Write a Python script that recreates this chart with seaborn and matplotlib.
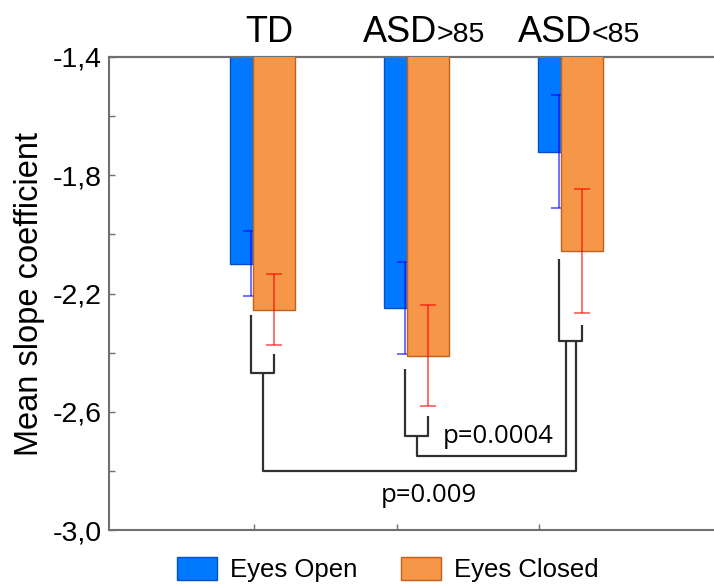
import matplotlib
matplotlib.use("Agg")
import numpy as np
import pandas as pd
import seaborn as sns
import matplotlib.pyplot as plt
import matplotlib.transforms as mtrans
from matplotlib.ticker import FixedLocator, FuncFormatter

# ---------------- data ----------------
groups = ["TD", "ASD>85", "ASD<85"]
conditions = ["Eyes Open", "Eyes Closed"]
open_mean = [-2.10, -2.25, -1.72]
open_err = [0.11, 0.155, 0.19]
closed_mean = [-2.255, -2.41, -2.055]
closed_err = [0.12, 0.17, 0.21]
p_labels = ["p=0.0004", "p=0.009"]
y_ticks = [-3.0, -2.6, -2.2, -1.8, -1.4]
y_minor = [-2.8, -2.4, -2.0, -1.6]

# ---------------- style ----------------
sns.set_theme(style="white")
plt.rcParams["font.family"] = ["Liberation Sans", "DejaVu Sans"]
plt.rcParams["text.color"] = "black"
plt.rcParams["axes.labelcolor"] = "black"

blue_fill, blue_edge = "#0078FF", "#0050C8"
orange_fill, orange_edge = "#F69648", "#C0601A"
spine_col = "#707070"

fig = plt.figure(figsize=(7.14, 5.85), dpi=100)
ax = fig.add_axes([109 / 714, 1 - 530 / 585, 1 - 109 / 714, 473 / 585])

pos = np.arange(len(groups))
off = 0.0747
bw = 0.273

df_open = pd.DataFrame({"x": pos - off, "y": open_mean})
df_closed = pd.DataFrame({"x": pos + off, "y": closed_mean})

sns.barplot(data=df_open, x="x", y="y", native_scale=True, width=bw,
            color=blue_fill, saturation=1, edgecolor=blue_edge, linewidth=1,
            errorbar=None, zorder=2, label=conditions[0], ax=ax)
ax.errorbar(pos - off, open_mean, yerr=open_err, fmt="none",
            ecolor=(0, 0, 1, 0.6), elinewidth=1.3, capsize=5.5, capthick=1.3,
            zorder=2.5)
sns.barplot(data=df_closed, x="x", y="y", native_scale=True, width=bw,
            color=orange_fill, saturation=1, edgecolor=orange_edge, linewidth=1,
            errorbar=None, zorder=3, label=conditions[1], ax=ax)
ax.errorbar(pos + off, closed_mean, yerr=closed_err, fmt="none",
            ecolor=(1, 0, 0, 0.6), elinewidth=1.3, capsize=5.5, capthick=1.3,
            zorder=4)
if ax.get_legend() is not None:
    ax.get_legend().remove()

# ---------------- significance brackets ----------------
bk = dict(color="#303030", lw=1.6, zorder=5, solid_capstyle="butt")
# per-group brackets: (left leg start, right leg start, join level)
leg_tops = [(-2.273, -2.405, -2.468), (-2.455, -2.613, -2.681), (-2.083, -2.307, -2.360)]
for i, (l0, r0, j) in enumerate(leg_tops):
    ax.plot([i - off, i - off, i + off, i + off], [l0, j, j, r0], **bk)
# connecting lines
ax.plot([1, 1, 1.969, 1.969], [-2.681, -2.75, -2.75, -2.360], **bk)
ax.plot([0, 0, 2.034, 2.034], [-2.468, -2.80, -2.80, -2.360], **bk)

ax.text(1.529, -2.706, p_labels[0], fontsize=18.5, family=["Open Sans", "DejaVu Sans"],
        ha="center", va="baseline", zorder=6, color="black")
ax.text(1.083, -2.904, p_labels[1], fontsize=18.5, family=["Open Sans", "DejaVu Sans"],
        ha="center", va="baseline", zorder=6, color="black")

# ---------------- axes ----------------
ax.set_ylim(-3.0, -1.4)
ax.set_xlim((109 - 262.5) / 154, (714 - 262.5) / 154)

ax.yaxis.set_major_locator(FixedLocator(y_ticks))
ax.yaxis.set_minor_locator(FixedLocator(y_minor))
ax.yaxis.set_major_formatter(FuncFormatter(lambda v, _: f"{v:.1f}".replace(".", ",")))
ax.tick_params(axis="y", which="both", direction="in", left=True, length=4,
               width=1, color=spine_col, labelsize=20.5, pad=5, labelcolor="black")

ax.xaxis.set_major_locator(FixedLocator([-0.055, 0.873, 1.795]))
ax.set_xticklabels([])
ax.tick_params(axis="x", which="both", direction="in", bottom=True, length=4,
               width=1, color=spine_col)
ax.set_xlabel("")

sec = ax.secondary_xaxis("top")
sec.set_xticks(pos)
sec.set_xticklabels([])
sec.tick_params(axis="x", direction="in", top=True, length=4, width=1, color=spine_col)
sec.spines["top"].set_color(spine_col)
sec.spines["top"].set_linewidth(1.5)

for s in ["left", "bottom", "top"]:
    ax.spines[s].set_color(spine_col)
    ax.spines[s].set_linewidth(1.5)
ax.spines["right"].set_visible(False)

ax.set_ylabel("Mean slope coefficient", fontsize=23.5, color="black")
ax.yaxis.set_label_coords(-0.105, 0.5)

# group labels on top
trans = mtrans.blended_transform_factory(ax.transData, ax.transAxes)
ax.text(0.045, 1.032, groups[0], fontsize=26, ha="center", va="baseline", transform=trans)
for i, xj in zip([1, 2], [1.133, 2.138]):
    name = groups[i]
    ax.text(xj, 1.032, name[:3], fontsize=26, ha="right", va="baseline", transform=trans)
    ax.text(xj, 1.032, name[3:], fontsize=20.5, ha="left", va="baseline", transform=trans)

# legend
handles, labels = ax.get_legend_handles_labels()
fig.legend(handles, labels, loc="center", bbox_to_anchor=(0.543, 0.027), ncol=2,
           frameon=False, fontsize=18.5, handlelength=1.55, handleheight=1.0,
           handletextpad=0.5, columnspacing=1.7, borderaxespad=0)

fig.savefig("out.png", dpi=100)
